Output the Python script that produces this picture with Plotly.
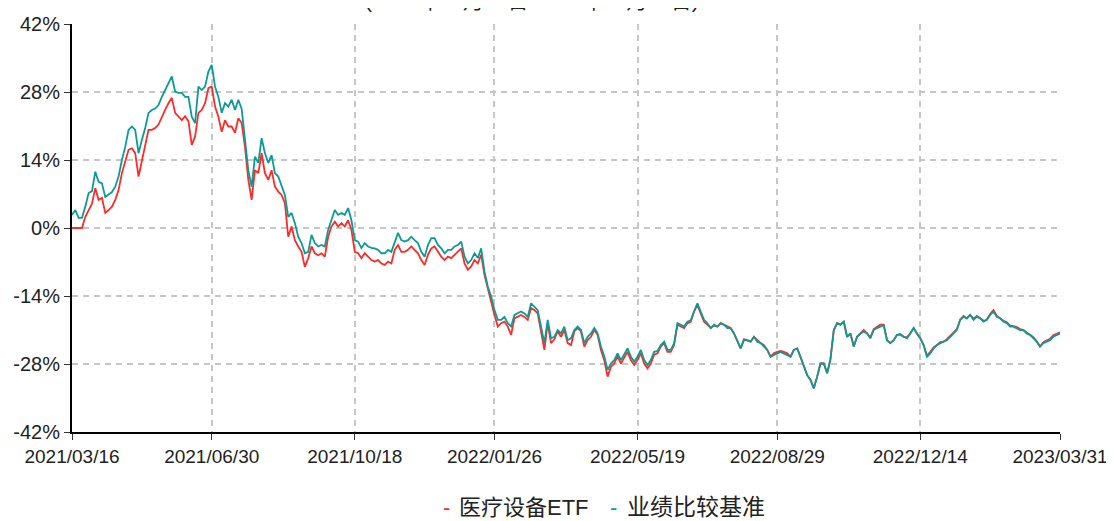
import plotly.graph_objects as go

# Cumulative returns (%), sampled at equal steps across the period
fund = [
    0, 0, 0, 0, 2.3, 3.7, 5.0, 8.2, 5.8, 6.2, 3.1, 3.7, 4.4, 5.8, 7.8, 11.3, 14.0, 16.1, 16.4, 15.4,
    10.6, 14.0, 16.7, 20.2, 20.2, 20.6, 21.3, 22.9, 24.3, 25.7, 26.8, 23.7, 23.0, 22.2, 23.0, 22.0,
    17.1, 18.8, 23.7, 24.3, 25.7, 28.8, 29.1, 25.0, 22.9, 19.8, 22.2, 20.9, 20.9, 19.6, 22.6,
    21.6, 16.7, 9.9, 5.8, 11.9, 11.3, 15.4, 11.3, 9.9, 11.9, 8.5, 7.5, 6.8, 5.1, -1.8, 0.3, -2.5,
    -3.8, -4.9, -8.0, -6.2, -3.8, -5.2, -5.6, -5.2, -5.9, -1.8, 0.3, 1.3, 0.3, 1.0, 0.3, 1.6, -0.4,
    -4.9, -5.2, -6.2, -5.2, -5.9, -6.6, -6.9, -6.6, -7.3, -7.6, -6.9, -7.3, -4.5, -3.5, -4.9, -4.9,
    -4.5, -3.8, -4.5, -5.2, -6.6, -7.6, -5.5,
    -4.2, -3.8, -4.9, -5.9, -6.6, -5.9, -6.2, -5.5, -4.9, -4.2, -7.3, -8.6, -7.9, -6.6, -7.3, -5.5,
    -9.7, -12.8, -15.2, -17.9, -20.3, -19.6, -19.3, -20.3, -22.0, -18.6, -18.3, -17.9, -18.3, -18.9,
    -16.5, -16.9, -17.6, -21.0, -25.1, -19.6, -23.7, -22.9, -21.3, -22.4, -21.0, -23.7, -24.1, -21.3,
    -20.6, -21.3, -24.4, -23.1, -22.4, -21.0, -22.0, -25.1, -27.2, -30.6, -28.6, -27.9, -26.4,
    -27.9, -26.8, -25.5, -27.2, -28.2, -27.2, -25.8, -27.9, -28.9, -27.9, -26.1, -25.8, -24.4, -23.7,
    -25.5, -25.5, -24.1, -19.9, -20.3, -20.6, -19.6, -19.3, -17.2, -15.8, -17.6, -19.3, -19.9, -20.6,
    -20.1, -20.3, -19.6, -19.9, -20.3, -20.6, -21.7, -23.1, -24.8, -22.9, -23.1, -23.4, -22.4, -23.1,
    -23.7, -24.1, -25.1, -26.5, -25.8, -25.5, -25.3, -25.5, -25.8, -26.5, -25.1, -24.8, -26.5, -28.6,
    -30.3, -31.3, -33.0, -30.6, -27.9, -27.9, -29.9,
    -27.0, -21.0, -19.6, -19.9, -19.3, -22.4, -21.7, -24.4, -22.4, -21.7, -21.0, -21.7, -22.5, -20.8,
    -20.3, -19.9, -19.9, -23.1, -23.7, -23.1, -22.0, -21.8, -22.4, -22.5, -21.7, -20.6, -21.7, -22.7,
    -24.1, -26.3, -25.5, -24.6, -24.1, -23.5, -23.4, -22.9, -22.2, -21.5, -20.8, -18.9, -18.1, -18.6,
    -17.9, -18.7, -18.1, -18.6, -19.1, -18.9, -17.7, -16.9, -18.1, -18.6, -19.1, -19.4, -20.1, -20.2,
    -20.4, -20.8, -21.0, -21.5, -22.0, -22.5, -23.3, -24.4, -23.5, -23.2, -22.8, -22.1, -21.8, -21.5,
]

benchmark = [
    2.7, 3.7, 2.1, 2.1, 4.4, 7.2, 7.6, 11.6, 9.5, 9.2, 6.4, 7.0, 7.4, 8.5, 10.6, 14.0, 16.7, 20.2,
    20.9, 20.2, 15.4, 18.1, 20.6, 23.7, 24.3, 24.6, 25.3, 27.0, 28.4, 29.8, 31.2, 28.1, 27.8, 27.8,
    27.0, 27.0, 22.9, 21.6, 29.1, 28.4, 29.1, 32.2, 33.6, 29.1, 27.0, 23.7, 25.7, 25.0, 26.4, 24.3, 26.4,
    24.5, 18.1, 11.9, 8.5, 14.7, 13.4, 18.5, 15.4, 13.4, 15.0, 11.3, 10.6, 8.5, 6.8, 2.3, 3.1, 1.0,
    -1.8, -3.1, -5.2, -4.9, -1.4, -3.1, -3.8, -3.5, -3.8, -0.4, 1.6, 3.7, 2.7, 3.1, 2.7, 4.1, 1.6,
    -2.5, -2.8, -4.1, -3.1, -3.8, -4.1, -4.2, -4.5, -5.2, -5.2, -4.5, -4.9, -3.1, -1.0, -2.5, -2.8,
    -2.5, -1.8, -2.5, -3.1, -4.9, -5.9, -3.5,
    -2.1, -2.1, -3.5, -4.2, -5.2, -4.5, -4.5, -3.8, -3.5, -2.8, -5.9, -7.3, -6.6, -5.2, -6.2, -4.2,
    -9.0, -12.1, -14.1, -16.9, -18.9, -18.9, -18.3, -19.6, -20.3, -17.9, -17.6, -17.2, -17.6, -18.3,
    -15.5, -16.2, -16.9, -20.3, -23.7, -18.9, -22.7, -22.4, -21.0, -21.7, -20.3, -23.1, -22.7, -21.0,
    -20.3, -21.0, -23.7, -22.4, -21.7, -20.6, -21.7, -24.4, -26.4, -29.2, -27.9, -27.2, -25.8,
    -27.2, -26.1, -24.8, -26.5, -27.5, -26.5, -25.1, -27.2, -28.2, -27.2, -25.5, -25.3, -24.1, -23.4,
    -25.1, -25.1, -23.7, -19.6, -19.9, -20.3, -19.3, -19.0, -17.2, -15.5, -17.2, -18.9, -19.6, -20.6,
    -19.9, -20.3, -19.6, -19.9, -20.6, -20.6, -21.7, -23.4, -24.8, -23.1, -23.1, -23.4, -22.4, -23.4,
    -23.7, -24.4, -25.1, -26.5, -26.1, -25.8, -25.5, -25.8, -26.1, -26.5, -25.1, -24.8, -26.5, -28.6,
    -30.3, -31.3, -33.0, -30.6, -27.9, -27.9, -29.9,
    -27.0, -21.0, -19.6, -19.9, -19.3, -22.4, -21.7, -24.4, -22.4, -21.7, -21.3, -21.7, -22.7, -21.0,
    -20.6, -20.3, -20.0, -23.1, -23.7, -23.1, -22.0, -22.0, -22.4, -22.7, -21.7, -20.6, -21.7, -22.7,
    -24.1, -26.5, -25.8, -24.8, -24.1, -23.7, -23.4, -23.1, -22.4, -21.7, -21.0, -18.9, -18.3, -18.6,
    -17.9, -18.9, -18.3, -18.6, -19.3, -18.9, -17.9, -17.2, -18.3, -18.6, -19.3, -19.6, -20.3, -20.3,
    -20.6, -21.0, -21.0, -21.7, -22.0, -22.7, -23.4, -24.4, -23.7, -23.4, -23.1, -22.4, -22.0, -21.7,
]

date_labels = ["2021/03/16", "2021/06/30", "2021/10/18", "2022/01/26",
               "2022/05/19", "2022/08/29", "2022/12/14", "2023/03/31"]
y_ticks = [-42, -28, -14, 0, 14, 28, 42]
series_names = ["医疗设备ETF", "业绩比较基准"]
subtitle = "(2021年03月16日-2023年03月31日)"

n = len(fund)
x = list(range(n))
last = n - 1
tick_pos = [round(i * last / (len(date_labels) - 1)) for i in range(len(date_labels))]

RED = "#ff2a2a"
TEAL = "#0a9c94"
FONT = "Liberation Sans, Arial, Noto Sans CJK SC, sans-serif"
GRID = "#c6c6c6"

fig = go.Figure()
fig.add_trace(go.Scatter(x=x, y=fund, mode="lines", name=series_names[0],
                         line=dict(color=RED, width=1.8), showlegend=False))
fig.add_trace(go.Scatter(x=x, y=benchmark, mode="lines", name=series_names[1],
                         line=dict(color=TEAL, width=1.8), showlegend=False))

# page body adds 8px around the figure div, so the figure is sized to fit
fig.update_layout(
    width=1106, height=513,
    margin=dict(l=64, r=54, t=16, b=89, autoexpand=False),
    plot_bgcolor="white", paper_bgcolor="white",
    font=dict(family=FONT, size=19, color="#222"),
    showlegend=False,
)
fig.update_xaxes(
    range=[0, last], tickmode="array", tickvals=tick_pos, ticktext=date_labels,
    showline=True, linecolor="#000", linewidth=2, automargin=False,
    ticks="outside", ticklen=6, tickcolor="#333", tickwidth=1,
    showgrid=True, gridcolor=GRID, griddash="6px,5px", gridwidth=1.5,
    zeroline=False, tickfont=dict(size=19, color="#222"),
)
fig.update_yaxes(
    range=[-42, 42], tickmode="array", tickvals=y_ticks,
    ticktext=[f"{v}%" for v in y_ticks],
    showline=True, linecolor="#000", linewidth=2, automargin=False,
    ticks="outside", ticklen=6, tickcolor="#333", tickwidth=1,
    showgrid=True, gridcolor=GRID, griddash="6px,5px", gridwidth=1.5,
    zeroline=False, tickfont=dict(size=20, color="#222"),
)

# subtitle (partly above the visible area, as in the source)
fig.add_annotation(text=subtitle, xref="paper", yref="paper",
                   x=(532 - 72) / 988, y=1 + 10 / 408, xanchor="center", yanchor="bottom",
                   showarrow=False, font=dict(size=21, color="#222"))

# legend drawn as text: coloured dash + label for each series
ly = -75 / 408
def px(v):
    return (v - 72) / 988
fig.add_annotation(text="-", xref="paper", yref="paper", x=px(446), y=ly,
                   xanchor="center", yanchor="middle", showarrow=False, borderpad=0,
                   font=dict(size=22, color=RED))
fig.add_annotation(text=series_names[0], xref="paper", yref="paper", x=px(458), y=ly,
                   xanchor="left", yanchor="middle", showarrow=False, borderpad=0,
                   font=dict(size=22, color="#222"))
fig.add_annotation(text="-", xref="paper", yref="paper", x=px(613), y=ly,
                   xanchor="center", yanchor="middle", showarrow=False, borderpad=0,
                   font=dict(size=22, color=TEAL))
fig.add_annotation(text=series_names[1], xref="paper", yref="paper", x=px(626), y=ly,
                   xanchor="left", yanchor="middle", showarrow=False, borderpad=0,
                   font=dict(size=23, color="#222"))

fig.write_html("out.html")
